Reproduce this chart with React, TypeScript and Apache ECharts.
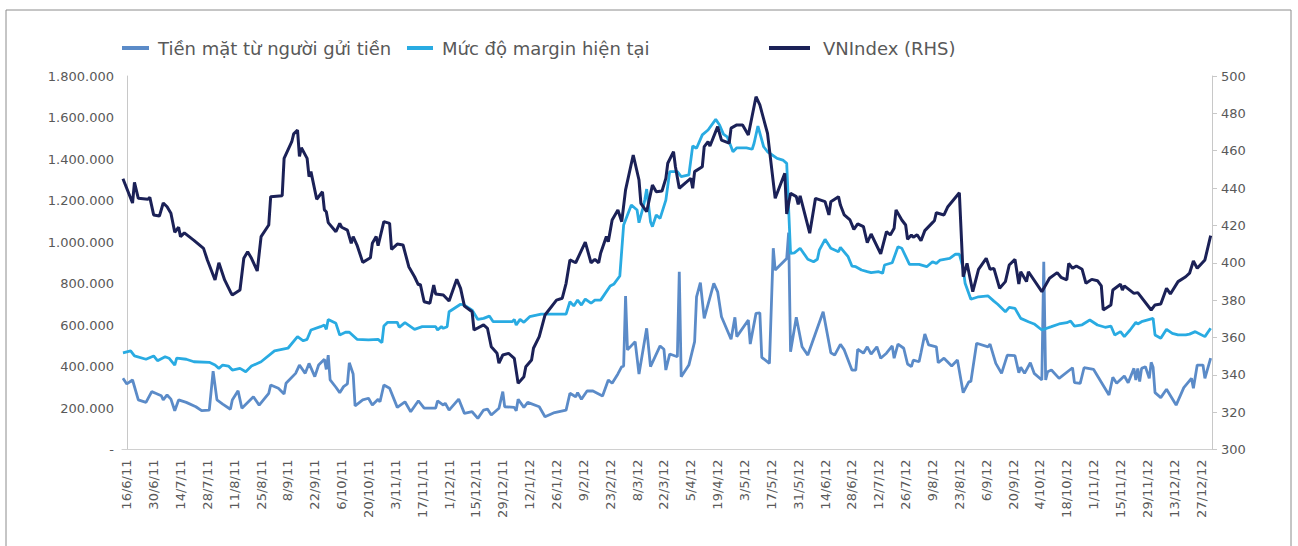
import React, { useEffect, useRef } from "react";
import * as echarts from "echarts";

// Day 0 = 16/6/2011; x values are days counted from it
const BASE_DATE = Date.UTC(2011, 5, 16);
const TICK_STEP_DAYS = 14;
const TICK_COUNT = 41;

const SERIES_NAMES = ["Tiền mặt từ người gửi tiền", "Mức độ margin hiện tại", "VNIndex (RHS)"];

const cashData: [number, number][] = [
  [-2,343000],[0,316000],[3,335000],[6,239000],[10,227000],[13,279000],[15,271000],[18,259000],[19,239000],[21,263000],[23,243000],[25,187000],[27,239000],[31,227000],[36,206000],[39,187000],[43,190000],[45,378000],[47,239000],[50,219000],[54,194000],[55,239000],[58,283000],[60,199000],[66,254000],[69,214000],[74,271000],[75,311000],[79,295000],[82,267000],[83,319000],[88,367000],[90,407000],[93,367000],[95,415000],[98,351000],[100,407000],[103,435000],[104,386000],[105,455000],[106,335000],[109,300000],[111,274000],[113,303000],[115,316000],[116,418000],[118,364000],[119,210000],[123,239000],[126,247000],[128,214000],[131,242000],[132,230000],[134,311000],[137,295000],[141,203000],[145,230000],[148,182000],[152,235000],[155,199000],[161,199000],[162,234000],[165,214000],[166,223000],[168,190000],[173,243000],[176,174000],[180,182000],[183,150000],[186,190000],[188,195000],[190,166000],[194,199000],[196,279000],[197,206000],[202,203000],[203,187000],[204,242000],[207,203000],[209,227000],[215,206000],[218,158000],[223,178000],[229,190000],[231,271000],[234,254000],[235,274000],[237,242000],[240,283000],[243,282000],[248,258000],[251,335000],[253,319000],[256,364000],[258,399000],[259,402000],[260,740000],[261,480000],[265,520000],[267,364000],[271,584000],[273,399000],[278,499000],[280,483000],[281,383000],[283,460000],[287,447000],[288,857000],[289,351000],[293,407000],[296,520000],[297,736000],[299,804000],[301,632000],[306,801000],[308,760000],[310,640000],[315,531000],[317,637000],[318,544000],[324,624000],[325,508000],[328,656000],[330,659000],[331,444000],[335,415000],[337,970000],[338,865000],[344,921000],[345,1045000],[346,471000],[349,637000],[352,495000],[355,455000],[363,664000],[367,466000],[369,455000],[372,507000],[374,480000],[378,383000],[380,383000],[381,483000],[384,464000],[386,495000],[388,460000],[391,495000],[393,440000],[396,464000],[399,499000],[400,440000],[402,508000],[405,488000],[407,412000],[409,399000],[410,431000],[413,423000],[414,466000],[416,557000],[418,504000],[422,495000],[423,418000],[426,440000],[430,402000],[433,431000],[436,274000],[439,327000],[440,327000],[443,512000],[449,495000],[450,508000],[453,415000],[456,367000],[459,455000],[463,452000],[465,370000],[466,396000],[468,367000],[471,418000],[473,367000],[477,335000],[478,905000],[479,335000],[480,375000],[482,383000],[486,343000],[493,394000],[494,322000],[497,319000],[499,394000],[504,386000],[512,263000],[514,348000],[516,319000],[520,354000],[522,322000],[525,391000],[526,335000],[527,391000],[528,327000],[529,391000],[531,399000],[533,343000],[534,420000],[535,396000],[536,274000],[539,250000],[542,290000],[547,214000],[551,298000],[555,343000],[556,295000],[558,407000],[561,407000],[562,343000],[565,440000]
];

const marginData: [number, number][] = [
  [-2,466000],[2,475000],[4,451000],[10,435000],[14,451000],[16,428000],[20,447000],[22,440000],[25,407000],[26,440000],[31,435000],[35,423000],[43,420000],[46,407000],[48,391000],[50,407000],[53,402000],[55,383000],[59,391000],[62,375000],[65,402000],[70,423000],[77,475000],[84,488000],[89,544000],[92,524000],[94,531000],[96,576000],[101,592000],[103,600000],[104,579000],[105,627000],[109,608000],[111,552000],[114,565000],[116,565000],[120,531000],[126,528000],[131,531000],[133,515000],[134,595000],[136,613000],[141,613000],[142,589000],[145,611000],[150,579000],[154,592000],[161,592000],[162,576000],[164,592000],[165,584000],[167,592000],[168,664000],[174,700000],[176,696000],[180,672000],[183,627000],[186,632000],[189,643000],[191,616000],[201,616000],[202,627000],[203,600000],[205,627000],[207,613000],[210,640000],[216,652000],[229,652000],[231,712000],[233,692000],[235,720000],[237,696000],[239,725000],[242,705000],[244,720000],[247,720000],[252,788000],[254,798000],[257,836000],[259,1082000],[263,1178000],[266,1154000],[267,1093000],[269,1162000],[270,1202000],[271,1255000],[273,1098000],[274,1074000],[276,1130000],[278,1114000],[281,1202000],[283,1339000],[287,1339000],[289,1315000],[293,1323000],[295,1463000],[297,1452000],[300,1516000],[303,1540000],[307,1591000],[309,1564000],[311,1520000],[313,1507000],[316,1435000],[318,1454000],[323,1454000],[326,1447000],[327,1476000],[329,1559000],[332,1459000],[334,1435000],[339,1403000],[342,1395000],[344,1379000],[346,945000],[348,948000],[351,970000],[355,917000],[358,905000],[360,917000],[361,961000],[364,1013000],[367,970000],[371,953000],[372,974000],[376,929000],[378,884000],[380,881000],[383,865000],[386,857000],[388,852000],[392,857000],[394,849000],[395,889000],[399,900000],[402,977000],[404,970000],[408,892000],[413,892000],[417,881000],[420,905000],[422,897000],[424,913000],[429,921000],[432,942000],[434,941000],[436,873000],[437,801000],[440,724000],[444,736000],[449,740000],[452,715000],[454,700000],[458,664000],[460,685000],[463,680000],[466,632000],[470,616000],[473,605000],[477,576000],[482,592000],[486,605000],[490,611000],[492,619000],[494,595000],[498,601000],[502,624000],[506,600000],[510,589000],[513,595000],[515,552000],[518,568000],[520,544000],[523,576000],[526,613000],[527,605000],[529,616000],[535,632000],[536,552000],[539,536000],[542,579000],[545,560000],[548,552000],[552,552000],[554,556000],[557,568000],[562,544000],[565,584000]
];

const vnIndexData: [number, number][] = [
  [-2,445],[3,432],[4,443],[6,434.5],[11,434],[12,435],[14,425.6],[17,425],[19,432],[21,430],[23,426.5],[25,416.3],[27,419],[28,414],[30,416],[35,412],[40,407.7],[42,401.5],[46,390.8],[48,400],[51,390.8],[54,384.5],[55,382.7],[59,385.4],[61,402.4],[63,405.9],[65,402.4],[68,395.6],[70,414],[74,420.2],[75,435.4],[81,435.9],[82,455.9],[86,464.8],[87,469],[89,471],[90,457],[91,461.6],[94,455.9],[95,446.1],[96,448.8],[99,434],[102,438],[103,428.3],[104,427.3],[105,421.5],[109,416.6],[111,421.1],[112,419],[115,417.5],[117,410.4],[118,414],[120,409.5],[123,400.2],[127,402.7],[128,410.4],[130,414],[131,409.1],[134,422],[137,421.1],[138,407.2],[141,410],[144,409.5],[147,397.9],[150,392.5],[152,388.1],[153,388.5],[155,379.1],[158,378.3],[160,388.1],[161,383.3],[165,382.7],[168,379.5],[172,391.1],[174,386.3],[176,376.8],[180,373.8],[181,364],[186,366.7],[188,364.9],[190,355],[193,351.5],[194,346.2],[196,350.6],[199,351.5],[202,348.8],[204,335.4],[207,339],[208,344.3],[211,347.9],[212,354.2],[215,360.4],[218,372],[224,380],[227,381],[229,389],[231,401.5],[234,400],[239,411],[242,400],[244,401.8],[246,400],[247,405.1],[250,414],[251,411.3],[253,422.9],[256,428.3],[258,422],[260,439],[264,457.7],[267,444.3],[268,431.8],[271,427.3],[274,441.6],[276,438],[279,438.4],[281,445.2],[282,453.3],[285,459.5],[286,451.4],[288,439.9],[292,443.4],[294,445.2],[295,439.9],[296,448.8],[300,451.4],[301,462.2],[303,464.8],[304,462.5],[308,472.9],[310,465.7],[314,464],[315,472.1],[318,473.8],[321,473.8],[324,468.4],[328,488.9],[330,484.5],[334,469.3],[338,434.5],[343,447.9],[344,426.1],[346,437.2],[349,435.4],[350,431.3],[351,435.8],[356,415.8],[359,434.5],[364,432.7],[366,425.6],[367,432.7],[371,435.4],[372,430.9],[374,425.6],[377,422.9],[379,417.9],[381,420.8],[384,419.3],[386,410.7],[388,415.4],[393,404.7],[396,416.6],[398,414.9],[400,418.5],[401,428.3],[404,422.9],[406,420.2],[407,412.6],[409,414.9],[410,413.6],[412,415],[414,411.8],[416,417.2],[420,421.5],[421,422.5],[422,426.8],[426,425.6],[428,430],[434,437.5],[436,392.5],[438,399.7],[441,384.5],[444,396.5],[448,402.4],[450,396.5],[452,397],[455,386.3],[458,389.9],[460,398.8],[463,401.8],[465,388.6],[466,395.2],[469,389.9],[470,395.2],[477,384.5],[481,391.7],[485,394.7],[487,392.2],[490,390.8],[491,399.7],[493,397],[495,398.3],[498,396.5],[500,389],[503,391.1],[506,390.4],[508,387.6],[509,374.7],[513,377.4],[514,385.4],[518,388.5],[519,385.4],[520,387.6],[525,383.6],[527,384],[534,374.7],[536,377.4],[539,377.9],[542,386.3],[544,383.3],[548,389.9],[552,392.5],[554,394.4],[556,400.9],[558,397],[562,401.5],[565,414.5]
];

const TICK_DAYS: number[] = Array.from({ length: TICK_COUNT }, (_, i) => i * TICK_STEP_DAYS);

function dayLabel(d: number): string {
  const dt = new Date(BASE_DATE + Math.round(d) * 86400000);
  return `${dt.getUTCDate()}/${dt.getUTCMonth() + 1}/${String(dt.getUTCFullYear()).slice(2)}`;
}

function thousands(v: number): string {
  if (v === 0) return "-";
  return String(Math.round(v)).replace(/\B(?=(\d{3})+(?!\d))/g, ".");
}

const COLORS = ["#5b8bc8", "#29abe2", "#1b2157"];
const FONT = "DejaVu Sans";
const GREY = "#595959";

export default function App() {
  const ref = useRef<HTMLDivElement>(null);
  useEffect(() => {
    if (!ref.current) return;
    const chart = echarts.init(ref.current, undefined, { renderer: "svg" });
    const legendBase = {
      orient: "horizontal",
      top: 39,
      padding: 0,
      itemHeight: 4,
      icon: "rect",
      selectedMode: false,
      textStyle: { color: GREY, fontFamily: FONT, fontSize: 18, padding: [0, 0, 0, 4] },
    };
    chart.setOption({
      animation: false,
      backgroundColor: "#ffffff",
      textStyle: { fontFamily: FONT },
      graphic: [
        {
          type: "rect",
          shape: { x: 6, y: 10, width: 1285, height: 560 },
          style: { fill: "none", stroke: "#8c8c8c", lineWidth: 1 },
          silent: true,
        },
      ],
      legend: [
        { ...legendBase, left: 122, itemWidth: 27, data: [SERIES_NAMES[0]] },
        { ...legendBase, left: 407, itemWidth: 26, data: [SERIES_NAMES[1]] },
        { ...legendBase, left: 769, itemWidth: 41, data: [SERIES_NAMES[2]], textStyle: { ...legendBase.textStyle, padding: [0, 0, 0, 8] } },
      ],
      grid: { left: 122, right: 86, top: 76, height: 373.5, containLabel: false },
      xAxis: {
        type: "value",
        min: -2.5,
        max: 565.7,
        splitLine: { show: false },
        axisLine: { show: true, lineStyle: { color: "#d0d0d0", width: 1 } },
        axisTick: { show: false },
        axisLabel: {
          customValues: TICK_DAYS,
          rotate: 90,
          margin: 10,
          color: GREY,
          fontFamily: FONT,
          fontSize: 13,
          formatter: (v: number) => dayLabel(v),
        },
      },
      yAxis: [
        {
          type: "value",
          min: 0,
          max: 1800000,
          interval: 200000,
          position: "left",
          splitLine: { show: false },
          axisLine: { show: true, lineStyle: { color: "#c8c8c8" } },
          axisTick: { show: false },
          axisLabel: { color: GREY, fontFamily: FONT, fontSize: 13, margin: 8, formatter: thousands },
        },
        {
          type: "value",
          min: 300,
          max: 500,
          interval: 20,
          position: "right",
          splitLine: { show: false },
          axisLine: { show: true, lineStyle: { color: "#c8c8c8" } },
          axisTick: { show: true, length: 5, lineStyle: { color: "#c8c8c8" } },
          axisLabel: { color: GREY, fontFamily: FONT, fontSize: 13, margin: 9 },
        },
      ],
      series: [
        {
          name: SERIES_NAMES[0],
          type: "line",
          yAxisIndex: 0,
          data: cashData,
          symbol: "none",
          color: COLORS[0],
          lineStyle: { width: 2.8, color: COLORS[0] },
        },
        {
          name: SERIES_NAMES[1],
          type: "line",
          yAxisIndex: 0,
          data: marginData,
          symbol: "none",
          color: COLORS[1],
          lineStyle: { width: 2.8, color: COLORS[1] },
        },
        {
          name: SERIES_NAMES[2],
          type: "line",
          yAxisIndex: 1,
          data: vnIndexData,
          symbol: "none",
          color: COLORS[2],
          lineStyle: { width: 3, color: COLORS[2] },
        },
      ],
    });
    return () => chart.dispose();
  }, []);
  return (
    <div
      ref={ref}
      style={{ position: "fixed", left: 0, top: 0, width: 1298, height: 546 }}
    />
  );
}
